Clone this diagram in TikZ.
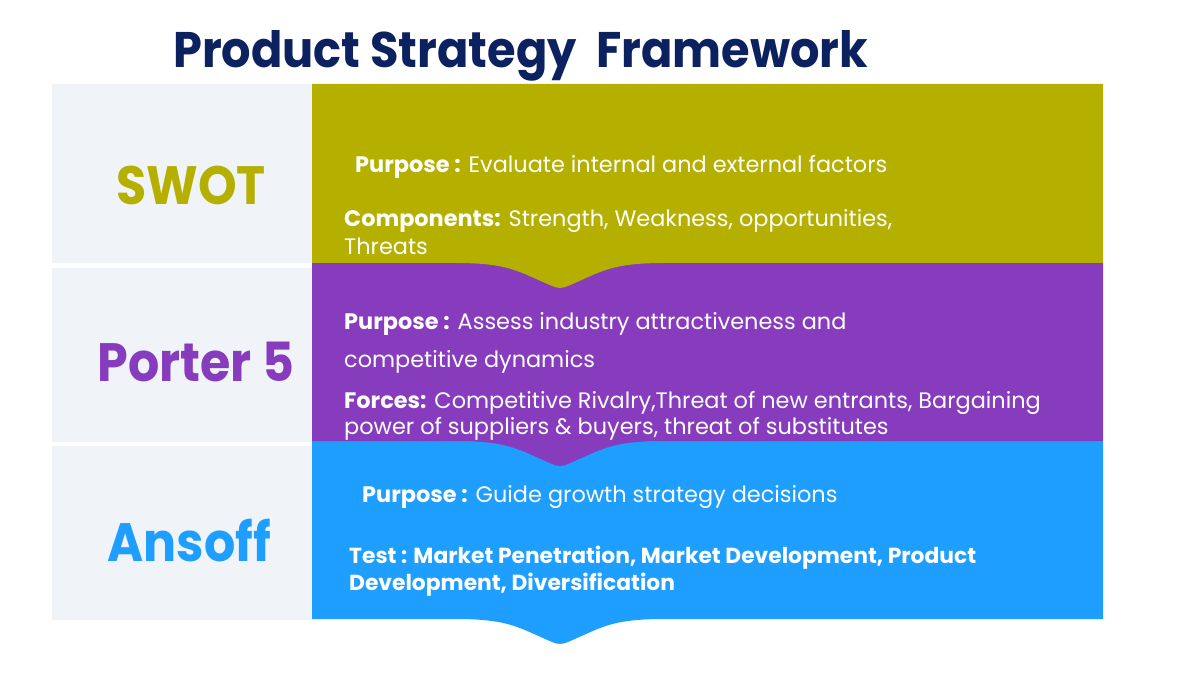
\documentclass[tikz,border=0pt]{standalone}
\usepackage{graphicx}
\usepackage{fontspec}
\setmainfont{Poppins}
\definecolor{olive}{HTML}{B5B000}
\definecolor{purp}{HTML}{873CBE}
\definecolor{sky}{HTML}{1E9EFF}
\definecolor{panel}{HTML}{F0F4F8}
\definecolor{navy}{HTML}{0B2160}
\newcommand\bandshape[4]{% color, top, bottom, name
  \fill[#1] (312,#2) -- (1103,#2) -- (1103,#3) -- (663,#3)
    .. controls (625,#3) and (610,#3+5) .. (595,#3+11) -- (568,#3+23)
    .. controls (563,#3+25.5) and (557,#3+25.5) .. (552,#3+23) -- (525,#3+11)
    .. controls (510,#3+5) and (495,#3) .. (457,#3) -- (312,#3) -- cycle;
  \coordinate (#4) at (312,#2);}
\newcommand\narrow[1]{\scalebox{0.91}[1]{#1}}
\tikzset{
  body/.style={anchor=base west, inner sep=0pt, text=white, font=\fontsize{22.4}{26}\selectfont},
  bodybold/.style={body, font=\fontsize{21.8}{26}\selectfont\bfseries},
  label/.style={anchor=center, inner sep=0pt, font=\fontsize{54}{60}\selectfont\bfseries},
  panelbox/.style={fill=panel}
}
\begin{document}
\begin{tikzpicture}[x=1pt,y=-1pt]
\useasboundingbox (0,0) rectangle (1200,676);
\fill[white] (0,0) rectangle (1200,676);
% left panels
\fill[panelbox] (52,84) rectangle (312,263);
\fill[panelbox] (52,268) rectangle (312,442);
\fill[panelbox] (52,446) rectangle (312,620);
% bands (bottom first)
\bandshape{sky}{441}{619}{bandC}
\bandshape{purp}{262}{441}{bandB}
\bandshape{olive}{84}{263}{bandA}
% title
\node[anchor=base west, inner sep=0pt, text=navy, font=\fontsize{50}{56}\selectfont\bfseries] (title) at (173,68) {\scalebox{0.925}[1]{Product Strategy\ \ Framework}};
% left labels
\node[label, text=olive] (swot) at (191,185) {\narrow{SWOT}};
\node[label, text=purp] (porter) at (196,362) {\narrow{Porter 5}};
\node[label, text=sky] (ansoff) at (189,541) {\narrow{Ansoff}};
% SWOT text
\node[body] (s1) at (355,173) {\textbf{Purpose :} Evaluate internal and external factors};
\node[body] (s2) at (344,227) {\textbf{Components:} Strength, Weakness, opportunities,};
\node[body] (s3) at (344,255) {Threats};
% Porter text
\node[body] (p1) at (344,330) {\textbf{Purpose :} Assess industry attractiveness and};
\node[body] (p2) at (344,368) {competitive dynamics};
\node[body] (p3) at (344,408) {\textbf{Forces:} Competitive Rivalry,Threat of new entrants, Bargaining};
\node[body] (p4) at (344,435) {power of suppliers \& buyers, threat of substitutes};
% Ansoff text
\node[body] (a1) at (362,502) {\textbf{Purpose :} Guide growth strategy decisions};
\node[bodybold] (a2) at (349,563) {Test : Market Penetration, Market Development, Product};
\node[bodybold] (a3) at (349,590) {Development, Diversification};
\end{tikzpicture}
\end{document}
